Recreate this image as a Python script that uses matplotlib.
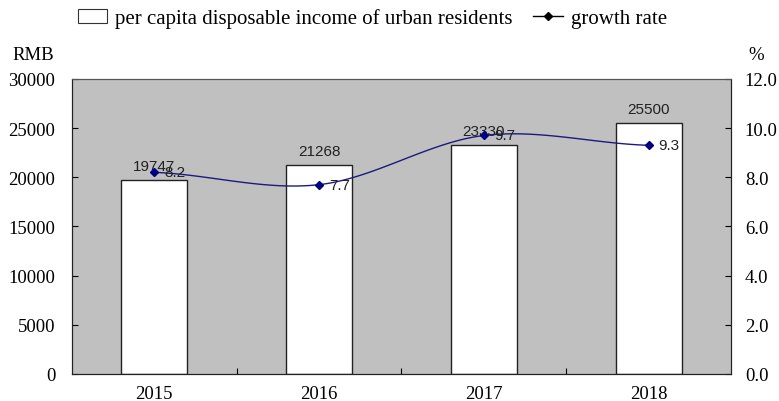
import numpy as np
import matplotlib
matplotlib.use('Agg')
import matplotlib.pyplot as plt
from matplotlib.patches import Patch
from matplotlib.lines import Line2D

years = ['2015', '2016', '2017', '2018']
income = [19747, 21268, 23330, 25500]
growth = [8.2, 7.7, 9.7, 9.3]

serif = 'Liberation Serif'
sans = 'Liberation Sans'


def smooth(x, y, n=40):
    # Catmull-Rom style curve through the points, like a spreadsheet "smoothed line"
    x = np.asarray(x, float)
    y = np.asarray(y, float)
    m = np.zeros_like(y)
    m[1:-1] = (y[2:] - y[:-2]) / 2
    m[0] = (y[1] - y[0]) / 2
    m[-1] = (y[-1] - y[-2]) / 2
    xs, ys = [], []
    for i in range(len(x) - 1):
        t = np.linspace(0, 1, n)
        h00 = 2 * t**3 - 3 * t**2 + 1
        h10 = t**3 - 2 * t**2 + t
        h01 = -2 * t**3 + 3 * t**2
        h11 = t**3 - t**2
        xs.append(x[i] + t * (x[i + 1] - x[i]))
        ys.append(h00 * y[i] + h10 * m[i] + h01 * y[i + 1] + h11 * m[i + 1])
    return np.concatenate(xs), np.concatenate(ys)


fig = plt.figure(figsize=(7.79, 4.02), dpi=100)
ax = fig.add_axes([0.0924, 0.0672, 0.8460, 0.734])
ax.set_facecolor('#c0c0c0')

pos = np.arange(len(years))
bars = ax.bar(pos, income, width=0.4, color='white', edgecolor='#222222', linewidth=1.0, zorder=2)
for p, v in zip(pos, income):
    ax.text(p, v + 700, str(v), ha='center', va='bottom', fontsize=11, family=sans, color='#222222', zorder=5)

ax.set_xlim(-0.5, 3.5)
ax.set_ylim(0, 30000)
ax.set_yticks(range(0, 30001, 5000))
ax.set_xticks([0.5, 1.5, 2.5])
ax.set_xticklabels([])
ax.set_xticks(pos, minor=True)
ax.set_xticklabels(years, minor=True)
ax.tick_params(axis='x', which='major', direction='in', length=4)
ax.tick_params(axis='x', which='minor', length=0, pad=8)
ax.tick_params(axis='y', direction='in', length=4, pad=12)
for lab in ax.get_xticklabels(minor=True) + ax.get_yticklabels():
    lab.set_family(serif)
    lab.set_fontsize(13.5)

ax2 = ax.twinx()
ax2.set_ylim(0, 12)
ax2.set_yticks(np.arange(0, 12.1, 2))
ax2.set_yticklabels(['%.1f' % v for v in np.arange(0, 12.1, 2)])
ax2.tick_params(axis='y', direction='in', length=4, pad=10)
for lab in ax2.get_yticklabels():
    lab.set_family(serif)
    lab.set_fontsize(13.5)

sx, sy = smooth(pos, growth)
ax2.plot(sx, sy, color='#1a1a80', linewidth=1.0, zorder=3)
ax2.plot(pos, growth, linestyle='none', marker='D', markersize=4.5, color='#000080', zorder=4)
for p, g in zip(pos, growth):
    ax2.text(p + 0.06, g, '%.1f' % g, ha='left', va='center', fontsize=11, family=sans, color='#222222', zorder=5)

for a in (ax, ax2):
    a.spines['top'].set_color('#555555')
    a.spines['left'].set_color('#222222')
    a.spines['right'].set_color('#222222')
    a.spines['bottom'].set_color('#222222')

fig.text(0.016, 0.863, 'RMB', family=serif, fontsize=13.5, va='center')
fig.text(0.961, 0.863, '%', family=serif, fontsize=13.5, va='center')

handles = [
    Patch(facecolor='white', edgecolor='#333333', linewidth=0.8),
    Line2D([0], [0], color='black', linewidth=1.0, marker='D', markersize=4),
]
fig.legend(handles, ['per capita disposable income of urban residents', 'growth rate'],
           loc='center', bbox_to_anchor=(0.478, 0.952), ncol=2, frameon=False,
           prop={'family': serif, 'size': 15}, handlelength=1.4, handleheight=0.7,
           columnspacing=1.0, handletextpad=0.4)

fig.savefig('out.png', dpi=100)
